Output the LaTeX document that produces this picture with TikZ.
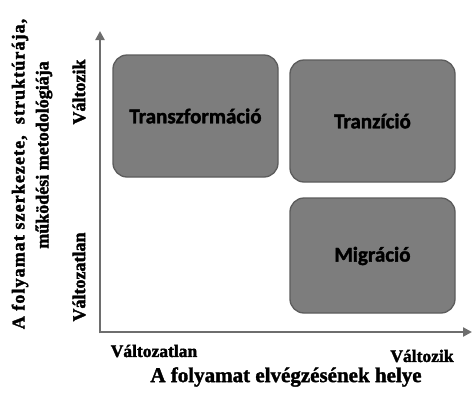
\documentclass[tikz,border=0pt]{standalone}
\usepackage{fontspec}
\setmainfont{Liberation Serif}
\newfontfamily\boxfont{Carlito}
\newfontfamily\spacedfont[LetterSpace=6]{Liberation Serif}
\usetikzlibrary{arrows.meta}
\newcommand{\heavytxt}[1]{\special{pdf:literal direct 2 Tr 0.35 w}#1\special{pdf:literal direct 0 Tr}}
\definecolor{boxfill}{RGB}{125,125,125}
\definecolor{boxline}{RGB}{92,92,92}
\definecolor{axisgray}{RGB}{110,110,110}
\tikzset{
  quad/.style={draw=boxline, line width=1.3pt, fill=boxfill, rounded corners=14pt},
  quadtext/.style={font=\boxfont\bfseries\fontsize{21}{24}\selectfont, text=black},
  axisline/.style={draw=axisgray, line width=2.6pt, -{Triangle[width=9pt,length=9pt]}},
  lbl/.style={font=\bfseries\fontsize{18}{21}\selectfont, inner sep=0pt},
  blbl/.style={font=\bfseries\fontsize{17.5}{21}\selectfont, inner sep=0pt},
  ttl/.style={font=\bfseries\fontsize{21}{24}\selectfont, inner sep=0pt},
  sidettl/.style={font=\bfseries\fontsize{18}{22}\selectfont, inner sep=0pt}
}
\begin{document}
\begin{tikzpicture}[x=1pt,y=-1pt]
\useasboundingbox (0,0) rectangle (472,394);
% boxes
\draw[quad] (113,55) rectangle (278,177);
\draw[quad] (290,60) rectangle (455,182);
\draw[quad] (290,198) rectangle (455,313);
\node[quadtext] (tf) at (195.5,116) {\heavytxt{Transzformáció}};
\node[quadtext] (tz) at (372.5,121) {\heavytxt{Tranzíció}};
\node[quadtext] (mg) at (372.5,256) {\heavytxt{Migráció}};
% axes
\coordinate (o) at (100,332);
\coordinate (ytip) at (100,31);
\coordinate (xtip) at (472,332);
\draw[axisline] (o) -- (ytip);
\draw[axisline] (o) -- (xtip);
\draw[draw=axisgray, line width=2.6pt] (100,333.3) -- (100,331);
% left labels
\node[lbl, rotate=90] (yv) at (79,92) {\heavytxt{Változik}};
\node[lbl, rotate=90] (yn) at (79,277) {\heavytxt{Változatlan}};
\node[sidettl, rotate=90] (t1) at (20,174) {\spacedfont\bfseries\heavytxt{A folyamat szerkezete, \ struktúrája,}};
\node[sidettl, rotate=90] (t2) at (44,155) {\heavytxt{működési metodológiája}};
% bottom labels
\node[blbl] (xn) at (154,351) {\heavytxt{Változatlan}};
\node[blbl] (xv) at (422,356) {\heavytxt{Változik}};
\node[ttl] (t3) at (286,377) {\heavytxt{A folyamat elvégzésének helye}};
\end{tikzpicture}
\end{document}
